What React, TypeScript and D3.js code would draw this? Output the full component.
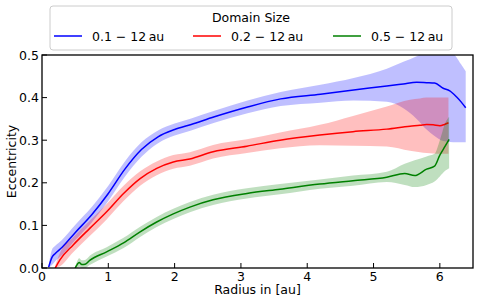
import React from "react";
import * as d3 from "d3";

// ---- data ----
const blueR = [0.1, 0.15, 0.2, 0.3, 0.5, 0.75, 1.0, 1.25, 1.5, 1.75, 2.0, 2.25, 2.6, 3.1, 3.6, 4.2, 4.7, 5.2, 5.45, 5.65, 5.8, 5.92, 6.05, 6.15, 6.25, 6.32, 6.39];
const blueMean = [0.002, 0.025, 0.034, 0.048, 0.083, 0.125, 0.175, 0.232, 0.278, 0.308, 0.325, 0.337, 0.355, 0.378, 0.397, 0.408, 0.418, 0.427, 0.432, 0.436, 0.435, 0.434, 0.422, 0.416, 0.402, 0.39, 0.376];
const blueLo = [0.0, 0.007, 0.016, 0.03, 0.065, 0.107, 0.157, 0.214, 0.261, 0.293, 0.311, 0.323, 0.341, 0.363, 0.38, 0.388, 0.393, 0.39, 0.375, 0.35, 0.325, 0.31, 0.298, 0.296, 0.295, 0.295, 0.295];
const blueHi = [0.005, 0.043, 0.052, 0.066, 0.101, 0.143, 0.193, 0.25, 0.295, 0.323, 0.339, 0.351, 0.369, 0.393, 0.413, 0.43, 0.446, 0.468, 0.484, 0.497, 0.51, 0.515, 0.515, 0.51, 0.495, 0.478, 0.462];

const redR = [0.2, 0.27, 0.47, 0.72, 0.975, 1.23, 1.48, 1.73, 1.98, 2.23, 2.58, 3.09, 3.59, 4.19, 4.69, 5.2, 5.55, 5.7, 5.8, 5.9, 6.0, 6.07, 6.13];
const redMean = [0.0, 0.019, 0.054, 0.093, 0.132, 0.175, 0.21, 0.234, 0.249, 0.256, 0.273, 0.286, 0.3, 0.312, 0.32, 0.326, 0.333, 0.335, 0.337, 0.336, 0.334, 0.337, 0.341];
const redLo = [0.0, 0.004, 0.037, 0.075, 0.114, 0.157, 0.193, 0.218, 0.233, 0.24, 0.257, 0.27, 0.281, 0.288, 0.287, 0.285, 0.275, 0.272, 0.27, 0.269, 0.268, 0.268, 0.268];
const redHi = [0.006, 0.035, 0.072, 0.111, 0.15, 0.193, 0.227, 0.25, 0.265, 0.272, 0.289, 0.302, 0.318, 0.336, 0.357, 0.379, 0.395, 0.398, 0.4, 0.4, 0.4, 0.4, 0.4];

const greenR = [0.5, 0.53, 0.56, 0.6, 0.65, 0.72, 0.975, 1.23, 1.48, 1.73, 1.98, 2.23, 2.58, 3.09, 3.59, 4.19, 4.69, 5.2, 5.47, 5.62, 5.8, 5.92, 6.0, 6.08, 6.14];
const greenMean = [0.0, 0.008, 0.013, 0.008, 0.009, 0.018, 0.038, 0.059, 0.085, 0.108, 0.127, 0.143, 0.16, 0.175, 0.185, 0.197, 0.205, 0.213, 0.222, 0.217, 0.232, 0.239, 0.265, 0.286, 0.302];
const greenLo = [0.0, 0.0, 0.003, 0.0, 0.0, 0.007, 0.027, 0.047, 0.073, 0.096, 0.115, 0.131, 0.148, 0.163, 0.173, 0.186, 0.193, 0.202, 0.195, 0.19, 0.195, 0.203, 0.215, 0.228, 0.234];
const greenHi = [0.002, 0.016, 0.023, 0.018, 0.019, 0.029, 0.049, 0.071, 0.097, 0.12, 0.139, 0.155, 0.172, 0.187, 0.197, 0.208, 0.217, 0.226, 0.245, 0.253, 0.262, 0.268, 0.3, 0.34, 0.355];

const seriesLabels = ["0.1 \u2212 12\u2009au", "0.2 \u2212 12\u2009au", "0.5 \u2212 12\u2009au"];
const seriesColors = ["#0000ff", "#ff0000", "#008000"];
const xTicks = [0, 1, 2, 3, 4, 5, 6];
const xTickLabels = ["0", "1", "2", "3", "4", "5", "6"];
const yTicks = [0, 0.1, 0.2, 0.3, 0.4, 0.5];
const yTickLabels = ["0.0", "0.1", "0.2", "0.3", "0.4", "0.5"];
const legendTitle = "Domain Size";
const xLabel = "Radius in [au]";
const yLabel = "Eccentricity";

const W = 480;
const H = 303;
const m = { left: 42, top: 55, right: 473, bottom: 268 };
const FONT = "DejaVu Sans, sans-serif";

export default function App() {
  const x = d3.scaleLinear().domain([0, 6.5]).range([m.left, m.right]);
  const y = d3.scaleLinear().domain([0, 0.5]).range([m.bottom, m.top]);

  const series = [
    { r: blueR, mean: blueMean, lo: blueLo, hi: blueHi },
    { r: redR, mean: redMean, lo: redLo, hi: redHi },
    { r: greenR, mean: greenMean, lo: greenLo, hi: greenHi },
  ];

  const line = d3
    .line<[number, number]>()
    .x((d) => x(d[0]))
    .y((d) => y(d[1]))
    .curve(d3.curveMonotoneX);
  const area = d3
    .area<[number, number, number]>()
    .x((d) => x(d[0]))
    .y0((d) => y(d[1]))
    .y1((d) => y(d[2]))
    .curve(d3.curveMonotoneX);

  const legendItemX = [54, 193, 333];

  return (
    <svg
      width={W}
      height={H}
      style={{ position: "absolute", left: 0, top: 0, display: "block", background: "#fff" }}
      fontFamily={FONT}
    >
      <defs>
        <clipPath id="plotclip">
          <rect x={m.left} y={m.top} width={m.right - m.left} height={m.bottom - m.top} />
        </clipPath>
      </defs>
      <rect x={0} y={0} width={W} height={H} fill="#fff" />
      <g clipPath="url(#plotclip)">
        {series.map((s, i) => {
          const bandData = s.r.map((r, k) => [r, s.lo[k], s.hi[k]] as [number, number, number]);
          const lineData = s.r.map((r, k) => [r, s.mean[k]] as [number, number]);
          return (
            <g key={i}>
              <path d={area(bandData) || ""} fill={seriesColors[i]} fillOpacity={0.25} stroke="none" />
              <path d={line(lineData) || ""} fill="none" stroke={seriesColors[i]} strokeWidth={1.5} />
            </g>
          );
        })}
      </g>
      {/* frame */}
      <rect
        x={m.left}
        y={m.top}
        width={m.right - m.left}
        height={m.bottom - m.top}
        fill="none"
        stroke="#000"
        strokeWidth={1.3}
      />
      {/* x ticks */}
      {xTicks.map((t, i) => (
        <g key={"xt" + i}>
          <line x1={x(t)} x2={x(t)} y1={m.bottom} y2={m.bottom - 5} stroke="#000" strokeWidth={1} />
          <text x={x(t)} y={280.5} textAnchor="middle" fontSize={12.5} fill="#000">
            {xTickLabels[i]}
          </text>
        </g>
      ))}
      {/* y ticks */}
      {yTicks.map((t, i) => (
        <g key={"yt" + i}>
          <line x1={m.left} x2={m.left + 5} y1={y(t)} y2={y(t)} stroke="#000" strokeWidth={1} />
          <text x={39} y={y(t) + 4.5} textAnchor="end" fontSize={12.5} fill="#000">
            {yTickLabels[i]}
          </text>
        </g>
      ))}
      <text x={(m.left + m.right) / 2} y={293.5} textAnchor="middle" fontSize={12.5} fill="#000">
        {xLabel}
      </text>
      <text
        transform={`translate(16,${(m.top + m.bottom) / 2}) rotate(-90)`}
        textAnchor="middle"
        fontSize={12.5}
        fill="#000"
      >
        {yLabel}
      </text>
      {/* legend */}
      <rect x={50} y={6} width={402} height={44} rx={3} fill="#fff" fillOpacity={0.8} stroke="#cccccc" strokeWidth={1} />
      <text x={251} y={22} textAnchor="middle" fontSize={12.5} fill="#000">
        {legendTitle}
      </text>
      {seriesLabels.map((lab, i) => (
        <g key={"lg" + i}>
          <line x1={legendItemX[i]} x2={legendItemX[i] + 28} y1={36} y2={36} stroke={seriesColors[i]} strokeWidth={1.5} />
          <text x={legendItemX[i] + 38} y={40.5} fontSize={12.5} fill="#000">
            {lab}
          </text>
        </g>
      ))}
    </svg>
  );
}
